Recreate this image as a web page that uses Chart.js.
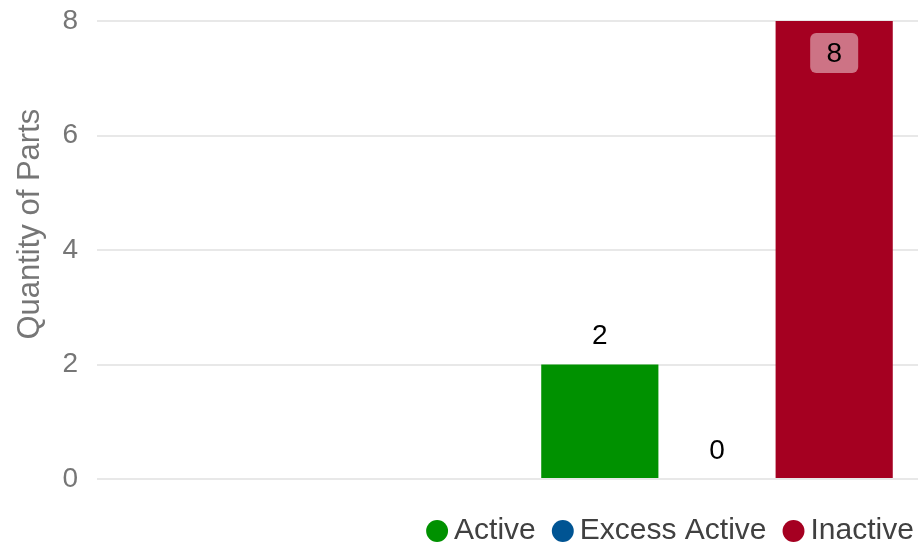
<!DOCTYPE html>
<html>
<head>
<meta charset="utf-8">
<script src="https://cdn.jsdelivr.net/npm/chart.js@4/dist/chart.umd.min.js"></script>
<style>
  html, body { margin: 0; padding: 0; background: #ffffff; overflow: hidden; }
  #wrap { width: 918px; height: 547px; overflow: hidden; position: relative; }
  #c { display: block; }
</style>
</head>
<body>
<div id="wrap"><canvas id="c" width="1347" height="556"></canvas></div>
<script>
// ---- data ----
const categories = [''];
const seriesNames = ['Active', 'Excess Active', 'Inactive'];
const activeValues = [2];
const excessActiveValues = [0];
const inactiveValues = [8];
const yTickValues = [0, 2, 4, 6, 8];
const yTitle = 'Quantity of Parts';

const seriesColors = ['#009100', '#005493', '#a50021'];
const FONT = "'Liberation Sans', Arial, sans-serif";

const valueLabels = {
  id: 'valueLabels',
  afterDatasetsDraw(chart) {
    const ctx = chart.ctx;
    const yScale = chart.scales.y;
    ctx.save();
    ctx.font = '28px ' + FONT;
    ctx.textAlign = 'center';
    chart.data.datasets.forEach((ds, di) => {
      const meta = chart.getDatasetMeta(di);
      meta.data.forEach((bar, i) => {
        const v = ds.data[i];
        const txt = String(v);
        if (v >= yScale.max) {
          const w = 48, h = 40;
          const bx = bar.x - w / 2, by = bar.y + 12;
          ctx.fillStyle = 'rgba(255,255,255,0.45)';
          ctx.beginPath();
          ctx.roundRect(bx, by, w, h, 6);
          ctx.fill();
          ctx.fillStyle = '#000';
          ctx.textBaseline = 'middle';
          ctx.fillText(txt, bar.x, by + h / 2 + 1);
        } else {
          ctx.fillStyle = '#000';
          ctx.textBaseline = 'alphabetic';
          ctx.fillText(txt, bar.x, bar.y - 20.5);
        }
      });
    });
    ctx.restore();
  }
};

new Chart(document.getElementById('c'), {
  type: 'bar',
  data: {
    labels: categories,
    datasets: [
      { label: seriesNames[0], data: activeValues, backgroundColor: seriesColors[0] },
      { label: seriesNames[1], data: excessActiveValues, backgroundColor: seriesColors[1] },
      { label: seriesNames[2], data: inactiveValues, backgroundColor: seriesColors[2] }
    ]
  },
  options: {
    responsive: false,
    animation: false,
    layout: { padding: { left: 12, right: 10, top: 21, bottom: 0 } },
    datasets: { bar: { categoryPercentage: 0.2835, barPercentage: 1.0, borderWidth: 0 } },
    scales: {
      x: {
        display: true,
        grid: { display: false },
        border: { display: false },
        ticks: { display: false },
        afterFit(scale) { scale.height = 12; }
      },
      y: {
        min: 0, max: 8,
        afterBuildTicks(scale) { scale.ticks = yTickValues.map(v => ({ value: v })); },
        afterFit(scale) { scale.width = 85; scale.paddingTop = 0; scale.paddingBottom = 0; },
        ticks: { color: '#767676', font: { family: FONT, size: 28 }, padding: 19 },
        grid: { color: '#e8e8e8', lineWidth: 2, drawTicks: false },
        border: { display: false },
        title: { display: true, text: '      ' + yTitle, color: '#767676', font: { family: FONT, size: 31 }, padding: 0 }
      }
    },
    plugins: {
      legend: {
        position: 'bottom',
        labels: {
          usePointStyle: true, pointStyle: 'circle',
          boxWidth: 4, boxHeight: 15.5, padding: 25,
          color: '#404040', font: { family: FONT, size: 30 }
        }
      },
      tooltip: { enabled: false }
    }
  },
  plugins: [valueLabels]
});
</script>
</body>
</html>
